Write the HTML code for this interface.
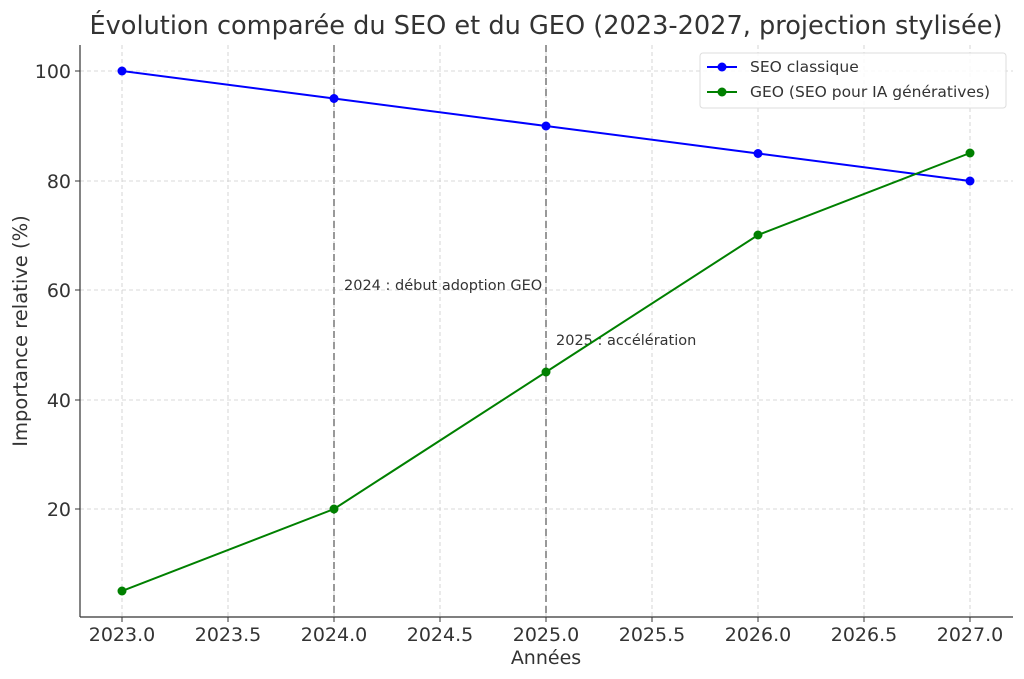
<!DOCTYPE html>
<html><head><meta charset="utf-8"><style>
html,body{margin:0;padding:0;background:#fff}
svg{display:block;font-family:"DejaVu Sans","Liberation Sans",sans-serif}
</style></head><body>
<svg width="1024" height="679" viewBox="0 0 1024 679" xmlns="http://www.w3.org/2000/svg">
<rect width="1024" height="679" fill="#fff"/>
<text x="546" y="34" font-size="25.6" fill="#333" text-anchor="middle">Évolution comparée du SEO et du GEO (2023-2027, projection stylisée)</text>
<g stroke="#ccc" stroke-width="0.8" stroke-dasharray="4,3">
<line x1="122" y1="45" x2="122" y2="617"/><line x1="228" y1="45" x2="228" y2="617"/><line x1="334" y1="45" x2="334" y2="617"/><line x1="440" y1="45" x2="440" y2="617"/><line x1="546" y1="45" x2="546" y2="617"/><line x1="652" y1="45" x2="652" y2="617"/><line x1="758" y1="45" x2="758" y2="617"/><line x1="864" y1="45" x2="864" y2="617"/><line x1="970" y1="45" x2="970" y2="617"/>
<line x1="80" y1="71" x2="1013" y2="71"/><line x1="80" y1="181" x2="1013" y2="181"/><line x1="80" y1="290" x2="1013" y2="290"/><line x1="80" y1="400" x2="1013" y2="400"/><line x1="80" y1="509" x2="1013" y2="509"/>
</g>
<g stroke="#999" stroke-width="2" stroke-dasharray="7,4">
<line x1="334" y1="45" x2="334" y2="617"/><line x1="546" y1="45" x2="546" y2="617"/>
</g>
<text x="344" y="290" font-size="14.5" fill="#333">2024 : début adoption GEO</text>
<text x="556" y="345" font-size="14.5" fill="#333">2025 : accélération</text>
<polyline points="122,71 334,98.5 546,126 758,153.5 970,181" fill="none" stroke="#0000ff" stroke-width="2"/>
<polyline points="122,591 334,509 546,372 758,235 970,153" fill="none" stroke="#008000" stroke-width="2"/>
<g fill="#0000ff"><circle cx="122" cy="71" r="4.5"/><circle cx="334" cy="98.5" r="4.5"/><circle cx="546" cy="126" r="4.5"/><circle cx="758" cy="153.5" r="4.5"/><circle cx="970" cy="181" r="4.5"/></g>
<g fill="#008000"><circle cx="122" cy="591" r="4.5"/><circle cx="334" cy="509" r="4.5"/><circle cx="546" cy="372" r="4.5"/><circle cx="758" cy="235" r="4.5"/><circle cx="970" cy="153" r="4.5"/></g>
<line x1="80" y1="45" x2="80" y2="617" stroke="#333" stroke-width="1.2"/>
<line x1="80" y1="617" x2="1013" y2="617" stroke="#333" stroke-width="1.2"/>
<g stroke="#333"><line x1="75" y1="71" x2="80" y2="71"/><line x1="75" y1="181" x2="80" y2="181"/><line x1="75" y1="290" x2="80" y2="290"/><line x1="75" y1="400" x2="80" y2="400"/><line x1="75" y1="509" x2="80" y2="509"/>
<line x1="122" y1="617" x2="122" y2="622"/><line x1="228" y1="617" x2="228" y2="622"/><line x1="334" y1="617" x2="334" y2="622"/><line x1="440" y1="617" x2="440" y2="622"/><line x1="546" y1="617" x2="546" y2="622"/><line x1="652" y1="617" x2="652" y2="622"/><line x1="758" y1="617" x2="758" y2="622"/><line x1="864" y1="617" x2="864" y2="622"/><line x1="970" y1="617" x2="970" y2="622"/></g>
<g font-size="19" fill="#333" text-anchor="end">
<text x="71" y="78">100</text><text x="71" y="188">80</text><text x="71" y="297">60</text><text x="71" y="407">40</text><text x="71" y="516">20</text></g>
<g font-size="19" fill="#333" text-anchor="middle">
<text x="122" y="641">2023.0</text><text x="228" y="641">2023.5</text><text x="334" y="641">2024.0</text><text x="440" y="641">2024.5</text><text x="546" y="641">2025.0</text><text x="652" y="641">2025.5</text><text x="758" y="641">2026.0</text><text x="864" y="641">2026.5</text><text x="970" y="641">2027.0</text></g>
<text x="546" y="664" font-size="19" fill="#333" text-anchor="middle">Années</text>
<text transform="translate(27,331) rotate(-90)" font-size="19.5" fill="#333" text-anchor="middle">Importance relative (%)</text>
<rect x="700" y="53" width="306" height="55" rx="3" fill="#fff" fill-opacity="0.85" stroke="#ddd"/>
<line x1="707" y1="67" x2="737" y2="67" stroke="#0000ff" stroke-width="2"/><circle cx="722" cy="67" r="4.5" fill="#0000ff"/>
<text x="750" y="72" font-size="15.5" fill="#333">SEO classique</text>
<line x1="707" y1="92" x2="737" y2="92" stroke="#008000" stroke-width="2"/><circle cx="722" cy="92" r="4.5" fill="#008000"/>
<text x="750" y="97" font-size="15.5" fill="#333">GEO (SEO pour IA génératives)</text>
</svg>
</body></html>
